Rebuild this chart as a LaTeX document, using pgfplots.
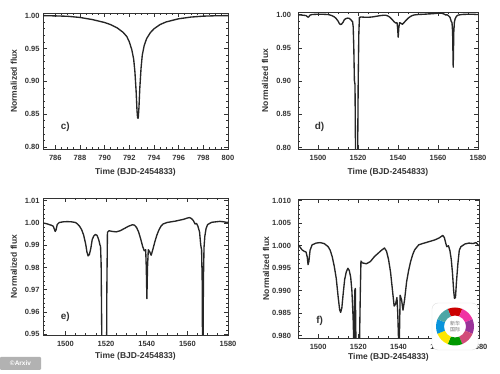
\documentclass[border=0pt]{standalone}
\usepackage{pgfplots}
\pgfplotsset{compat=1.18}
\usepackage{fontspec}
\setmainfont{Liberation Sans}
\newfontfamily\cjk{Noto Sans CJK SC}

\pgfplotstableread{
t f
785.0 1.0000
786.0 0.9996
787.0 0.9990
788.0 0.9972
789.0 0.9940
790.0 0.9895
790.5 0.9862
791.0 0.9815
791.5 0.9745
791.8 0.9680
792.0 0.9600
792.2 0.9480
792.35 0.9340
792.45 0.9150
792.55 0.8850
792.62 0.8560
792.67 0.8440
792.72 0.8440
792.78 0.8600
792.85 0.8900
792.95 0.9200
793.05 0.9400
793.2 0.9540
793.4 0.9650
793.7 0.9740
794.0 0.9800
794.5 0.9865
795.0 0.9905
796.0 0.9952
797.0 0.9978
798.0 0.9992
799.0 0.9998
800.0 1.0000
}\datac

\pgfplotstableread{
t f
1489.0 1.0000
1490.0 0.9998
1491.0 0.9996
1492.0 0.9993
1493.0 0.9990
1494.0 0.9986
1494.6 0.9972
1495.0 0.9962
1495.4 0.9968
1496.0 0.9993
1497.0 1.0002
1499.0 1.0005
1501.0 1.0006
1503.0 1.0005
1505.0 1.0002
1506.0 0.9995
1507.0 0.9985
1508.0 0.9970
1509.0 0.9945
1510.0 0.9905
1510.6 0.9870
1511.2 0.9852
1511.8 0.9858
1512.5 0.9885
1513.2 0.9925
1514.0 0.9942
1514.8 0.9948
1515.6 0.9944
1516.4 0.9925
1517.0 0.9902
1517.3 0.9895
1517.6 0.9815
1517.9 0.9500
1518.2 0.9010
1518.5 0.8950
1518.8 0.7800
1519.8 0.7800
1520.1 0.9000
1520.4 0.9700
1520.7 0.9958
1521.5 0.9965
1523.0 0.9962
1525.0 0.9960
1527.0 0.9965
1529.0 0.9975
1531.0 0.9985
1533.0 0.9992
1534.0 0.9990
1535.0 0.9980
1536.0 0.9960
1537.0 0.9930
1538.0 0.9895
1538.8 0.9875
1539.5 0.9880
1539.8 0.9800
1540.1 0.9660
1540.4 0.9800
1540.8 0.9880
1541.5 0.9870
1542.2 0.9855
1543.0 0.9880
1544.0 0.9915
1545.0 0.9945
1546.0 0.9968
1547.0 0.9985
1548.0 0.9995
1550.0 1.0002
1552.0 1.0005
1554.0 1.0008
1556.0 1.0012
1558.0 1.0016
1560.0 1.0022
1561.0 1.0024
1562.0 1.0020
1563.0 1.0010
1563.8 0.9995
1564.5 0.9998
1565.2 0.9985
1566.0 0.9960
1566.6 0.9900
1567.0 0.9880
1567.3 0.9740
1567.6 0.9210
1567.9 0.9740
1568.2 0.9890
1568.6 0.9940
1569.2 0.9975
1570.0 0.9993
1572.0 1.0003
1574.0 1.0005
1576.0 1.0007
1578.0 1.0005
1579.0 1.0003
1580.0 1.0003
}\datade

\pgfplotstableread{
t f
1490.0 1.0003
1491.0 0.9997
1492.0 0.9991
1493.0 0.9988
1494.0 0.9986
1494.6 0.9975
1495.0 0.9958
1495.4 0.9965
1496.0 0.9990
1497.0 1.0002
1499.0 1.0006
1501.0 1.0007
1503.0 1.0005
1505.0 0.9998
1506.0 0.9990
1507.0 0.9976
1508.0 0.9955
1509.0 0.9928
1510.0 0.9885
1510.7 0.9858
1511.2 0.9852
1511.8 0.9862
1512.5 0.9895
1513.2 0.9925
1514.0 0.9942
1514.8 0.9950
1515.5 0.9945
1516.2 0.9930
1516.8 0.9900
1517.1 0.9870
1517.4 0.9840
1517.7 0.9790
1518.0 0.9790
1518.2 0.9900
1518.5 0.9905
1518.8 0.9790
1520.6 0.9790
1521.0 0.9900
1521.3 0.9966
1522.0 0.9962
1524.0 0.9960
1526.0 0.9965
1528.0 0.9976
1530.0 0.9984
1531.5 0.9990
1533.0 0.9995
1534.0 0.9988
1535.0 0.9970
1536.0 0.9942
1537.0 0.9900
1537.8 0.9866
1538.5 0.9870
1539.2 0.9885
1539.6 0.9850
1540.0 0.9790
1540.4 0.9790
1540.8 0.9890
1541.5 0.9880
1542.2 0.9857
1543.0 0.9880
1544.0 0.9920
1545.0 0.9945
1546.0 0.9965
1547.0 0.9980
1548.0 0.9991
1550.0 1.0002
1552.0 1.0005
1555.0 1.0009
1558.0 1.0013
1560.0 1.0017
1561.0 1.0020
1562.0 1.0023
1562.8 1.0018
1563.5 1.0005
1564.0 0.9998
1564.8 1.0000
1565.5 0.9990
1566.2 0.9970
1566.8 0.9940
1567.4 0.9900
1567.8 0.9883
1568.3 0.9885
1568.8 0.9920
1569.5 0.9960
1570.2 0.9990
1571.0 0.9998
1573.0 1.0004
1575.0 1.0006
1577.0 1.0005
1578.5 1.0007
1580.0 1.0000
}\dataf

\pgfplotsset{
  panel/.style={
    scale only axis,
    anchor=south west,
    /pgf/number format/assume math mode=true,
    axis line style={line width=0.9pt,black!80},
    tick style={line width=0.7pt,black!80},
    major tick length=4pt,
    minor tick length=2pt,
    tick align=inside,
    xtick pos=both, ytick pos=both,
    xticklabel pos=bottom, yticklabel pos=left,
    tick label style={font=\bfseries\fontsize{7.5}{9}\selectfont, text=black!80},
    xticklabel style={yshift=-2.5pt, /pgf/number format/1000 sep={}},
    label style={font=\bfseries\fontsize{8.5}{10}\selectfont, text=black!80},
    xlabel={Time (BJD-2454833)},
    ylabel={Normalized flux},
    minor x tick num=3,
    minor y tick num=4,
    clip=true,
  },
  curve/.style={black!85, line width=1.35pt, line join=round, no marks},
}

\begin{document}
\begin{tikzpicture}[x=1pt,y=1pt]
\path[use as bounding box] (0,0) rectangle (500,374);

% c)
\begin{axis}[panel, at={(43pt,225pt)}, width=185pt, height=136pt,
  xmin=785, xmax=800, ymin=0.797, ymax=1.004,
  xtick={786,788,790,792,794,796,798,800},
  ytick={0.80,0.85,0.90,0.95,1.00},
  yticklabel style={/pgf/number format/.cd, fixed, fixed zerofill, precision=2},
  xlabel style={at={(axis description cs:0.5,-0.169)}, anchor=center},
  ylabel style={at={(axis description cs:-0.157,0.5)}, anchor=center},
  minor x tick num=3]
\addplot[curve] table[x=t,y=f] {\datac};
\node[font=\bfseries\fontsize{10}{12}\selectfont, text=black!80] at (rel axis cs:0.12,0.16) {c)};
\end{axis}

% d)
\begin{axis}[panel, at={(298pt,225pt)}, width=180pt, height=137pt,
  xmin=1490, xmax=1580, ymin=0.798, ymax=1.004,
  xtick={1500,1520,1540,1560,1580},
  ytick={0.80,0.85,0.90,0.95,1.00},
  yticklabel style={xshift=-3.5pt, /pgf/number format/.cd, fixed, fixed zerofill, precision=2},
  xlabel style={at={(axis description cs:0.5,-0.168)}, anchor=center},
  ylabel style={at={(axis description cs:-0.183,0.5)}, anchor=center}]
\addplot[curve] table[x=t,y=f] {\datade};
\node[font=\bfseries\fontsize{10}{12}\selectfont, text=black!80] at (rel axis cs:0.12,0.16) {d)};
\end{axis}

% e)
\begin{axis}[panel, at={(43pt,39pt)}, width=185pt, height=137pt,
  xmin=1489, xmax=1580, ymin=0.9497, ymax=1.0112,
  xtick={1500,1520,1540,1560,1580},
  ytick={0.95,0.96,0.97,0.98,0.99,1.00,1.01},
  yticklabel style={/pgf/number format/.cd, fixed, fixed zerofill, precision=2},
  xlabel style={at={(axis description cs:0.5,-0.153)}, anchor=center},
  ylabel style={at={(axis description cs:-0.157,0.5)}, anchor=center}]
\addplot[curve] table[x=t,y=f] {\datade};
\node[font=\bfseries\fontsize{10}{12}\selectfont, text=black!80] at (rel axis cs:0.12,0.135) {e)};
\end{axis}

% f)
\begin{axis}[panel, at={(298pt,36pt)}, width=181pt, height=139pt,
  xmin=1490, xmax=1580, ymin=0.9795, ymax=1.0104,
  xtick={1500,1520,1540,1560,1580},
  ytick={0.980,0.985,0.990,0.995,1.000,1.005,1.010},
  yticklabel style={xshift=-3.5pt, /pgf/number format/.cd, fixed, fixed zerofill, precision=3},
  xlabel style={at={(axis description cs:0.5,-0.137)}, anchor=center},
  ylabel style={at={(axis description cs:-0.177,0.5)}, anchor=center}]
\addplot[curve] table[x=t,y=f] {\dataf};
\node[font=\bfseries\fontsize{10}{12}\selectfont, text=black!80] at (rel axis cs:0.12,0.12) {f)};
\end{axis}

% logo overlay
\fill[white, draw=black!12, rounded corners=6pt] (432,24) rectangle (478,71);
\begin{scope}[shift={(455,47.5)}]
  \foreach \a/\c in {90/red!80!black, 45/magenta!80, 0/violet!80, -45/purple!70, -90/green!60!black, -135/yellow!90!orange, 180/cyan!80!blue, 135/teal!70}{
    \fill[\c] (\a-22.5:19) arc[start angle=\a-22.5, end angle=\a+22.5, radius=19]
      -- (\a+22.5:11) arc[start angle=\a+22.5, end angle=\a-22.5, radius=11] -- cycle;
  }
  \node[font=\cjk\fontsize{5}{6}\selectfont, text=black!55, align=center] at (0,0) {新华\\国际};
\end{scope}

% watermark
\fill[black!30, rounded corners=1pt] (0,4) rectangle (41,17);
\node[font=\bfseries\fontsize{6.5}{7}\selectfont, text=white] at (20.5,10.5) {\textcopyright Arxiv};

\end{tikzpicture}
\end{document}
